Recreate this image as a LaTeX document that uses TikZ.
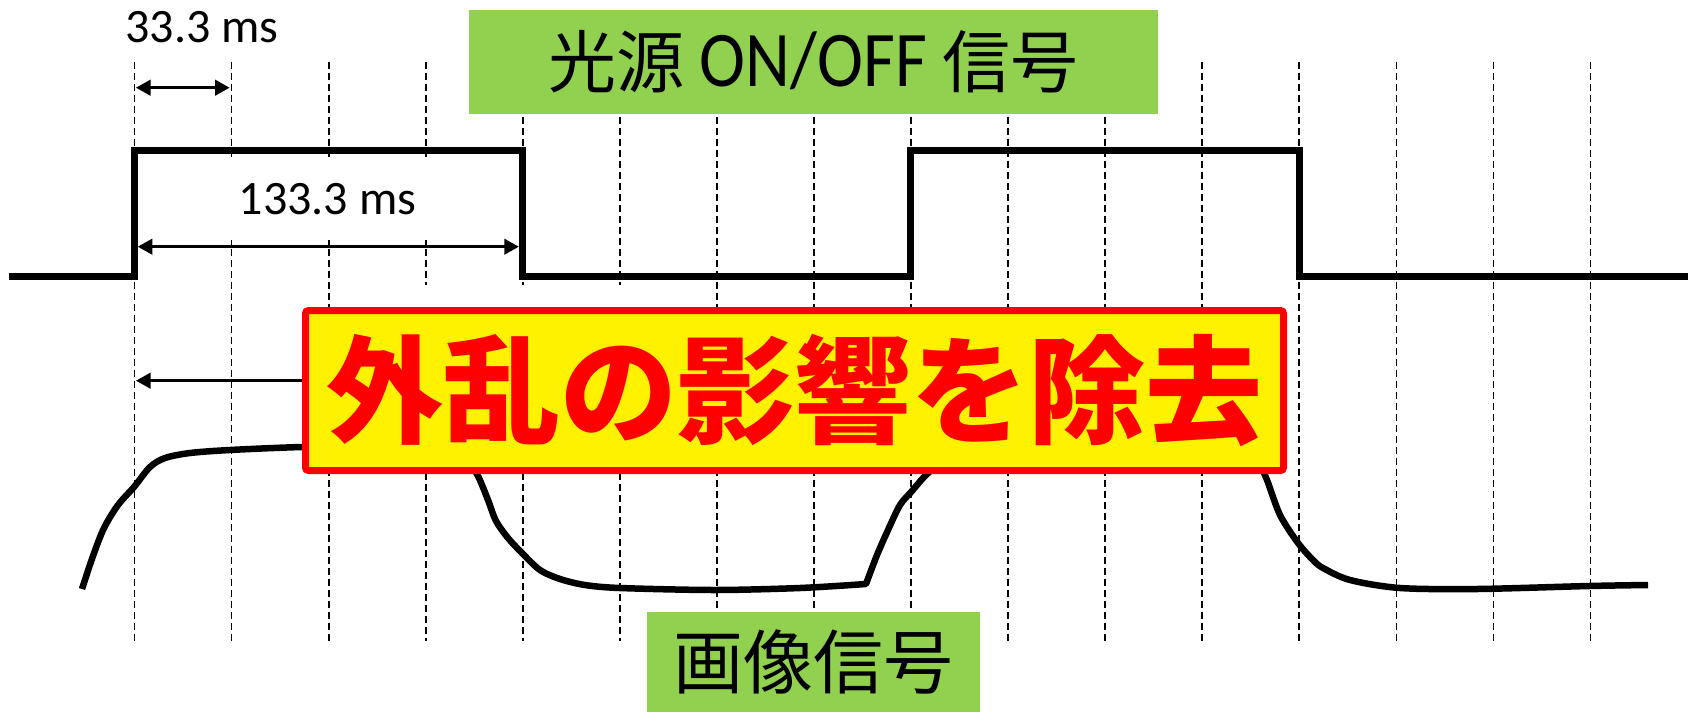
\documentclass[tikz,border=0pt]{standalone}
\usepackage{fontspec}
\setmainfont{Carlito}
\newfontfamily\cjk{Noto Sans CJK JP}
\usetikzlibrary{arrows.meta}
\definecolor{offgreen}{HTML}{92D050}
\pgfdeclarelayer{bg}
\pgfsetlayers{bg,main}
\tikzset{
  gridline/.style={dash pattern=on 7pt off 4pt, line width=1.8pt},
  pulseline/.style={line width=7pt, line join=miter},
  imgsig/.style={line width=6.5pt, line join=round},
  tip/.tip={Triangle[length=14.5pt,width=15.5pt]},
  dimarrow/.style={line width=2.5pt, tip-tip},
  onearrow/.style={line width=2.5pt, -tip},
  lbl/.style={inner sep=0pt, font=\fontsize{48}{56}\selectfont},
  greenbox/.style={fill=offgreen, inner sep=0pt},
}
\begin{document}
\begin{tikzpicture}[x=1pt,y=-1pt]
\useasboundingbox (0,0) rectangle (1696,712);

% boxes (main layer)
\node[draw=red, fill=yellow, line width=7pt, rounded corners=3pt,
      minimum width=978pt, minimum height=160pt, inner sep=0pt, text=red,
      font=\cjk\bfseries\fontsize{117}{120}\selectfont] (yb) at (794.5,390.5) {外乱の影響を除去};
\node[greenbox, minimum width=689pt, minimum height=104pt,
      font=\fontsize{68}{70}\selectfont] (gtop) at (813.5,62)
      {{\cjk 光源} \raisebox{1pt}{\scalebox{1.02}[1.16]{ON/OFF}} {\cjk 信号}};
\node[greenbox, minimum width=333pt, minimum height=100pt,
      font=\cjk\fontsize{70}{72}\selectfont] (gbot) at (813.3,662) {画像信号};

\begin{pgfonlayer}{bg}
% dashed time grid
\foreach \i in {0,1,2,6,7,8,9,10,11,12,13,14,15}{
  \pgfmathsetmacro{\xx}{134.5+97.07*\i}
  \draw[gridline] (\xx,61.7) -- (\xx,640.7);
}
\foreach \i in {3,4,5}{
  \pgfmathsetmacro{\xx}{134.5+97.07*\i}
  \draw[gridline] (\xx,61.7) -- (\xx,285);
  \draw[gridline] (\xx,473) -- (\xx,640.7);
}

% labels
\node[lbl] (t33) at (202,27.5) {33.3 ms};
\node[lbl, fill=white, minimum width=375pt, minimum height=81pt] (t133) at (327.5,199.5) {133.3 ms};

% light source ON/OFF pulse
\draw[pulseline] (8.7,276) -- (134.7,276) -- (134.7,150.5) -- (522.4,150.5) -- (522.4,276)
  -- (910.2,276) -- (910.2,150.5) -- (1299,150.5) -- (1299,276) -- (1688,276);

% dimension arrows
\coordinate (d1a) at (136,87.7);
\coordinate (d1b) at (229.6,87.7);
\draw[dimarrow] (d1a) -- (d1b);
\coordinate (d2a) at (137.8,246.7);
\coordinate (d2b) at (518.8,246.7);
\draw[dimarrow] (d2a) -- (d2b);
\coordinate (a3) at (136,380.7);
\draw[onearrow] (yb.west |- a3) -- (a3);

% image signal
\draw[imgsig] plot[smooth, tension=0.5] coordinates {
  (82,589) (93,556) (104,528) (118,505) (134,487) (150,467) (165,458)
  (190,453) (230,450) (302,447) (380,446) (435,447) (455,452) (468,462) (478,476)
  (488,500) (496,521) (508,538) (522,553) (540,570) (560,579) (585,585) (620,588)
  (714,590) (800,588) (866,584)}
  -- plot[smooth, tension=0.5] coordinates {
  (866,584) (877,555) (888,530) (900,505) (912,491) (926,475) (945,460) (970,452)
  (1010,448) (1100,446) (1200,446) (1235,448) (1250,455) (1260,466) (1267,480)
  (1280,515) (1298,543) (1313,560) (1323,568) (1350,580) (1400,588)
  (1477,589) (1589,586) (1648,585)};
\end{pgfonlayer}
\end{tikzpicture}
\end{document}
